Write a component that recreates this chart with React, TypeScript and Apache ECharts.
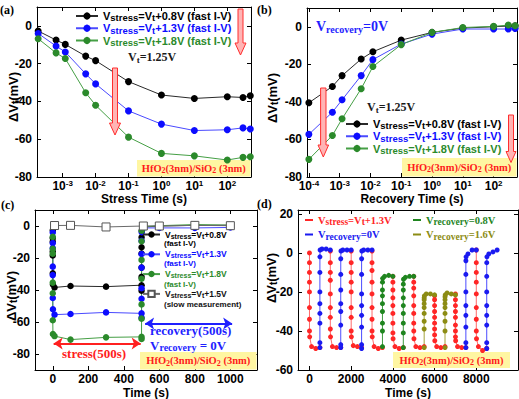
import React, { useEffect, useRef } from "react";
import * as echarts from "echarts";

const SANS = "'Liberation Sans', Arial, Helvetica, sans-serif";
const SERIF = "'Liberation Serif', 'Times New Roman', Times, serif";

// ---- (a) stress phase: time (s) and threshold shift (mV) ----
const stressTimes = [1.8e-4, 6.3e-4, 1.2e-3, 5e-3, 1e-2, 0.1, 1, 10, 100, 300, 500];
const stressShift08 = [-2.7, -7.5, -9.8, -16, -18.4, -29.5, -36.6, -38.4, -37.5, -37.9, -37];
const stressShift13 = [-4, -10.7, -13.8, -25.4, -30.7, -45, -52, -55.4, -55, -54, -54.6];
const stressShift18 = [-6.8, -14.3, -17.3, -35.4, -42, -58.9, -67.5, -68.8, -71, -69.6, -69.3];

// ---- (b) recovery phase (Vrecovery = 0V) ----
const recoveryTimes = [1e-4, 5.8e-4, 1.2e-3, 5e-3, 1.2e-2, 0.1, 1, 10, 100, 300, 500];
const recoveryShift08 = [-40.5, -31.8, -26, -17.2, -13.3, -7.1, -3, -0.7, 0, 0.4, 0.5];
const recoveryShift13 = [-57.3, -45.5, -38.9, -26, -17.5, -9.2, -3.9, -1.2, -1.2, -1.2, -0.9];
const recoveryShift18 = [-70.6, -57.9, -49, -33, -21.2, -9.5, -3, -0.4, 0.2, 0.9, 0.5];

// ---- (c) stress then recovery on a linear time axis ----
const stressDuration = 500;
const slowTimes = [10, 100, 300, 510, 600, 800, 1000];
const slowShift = [0.3, 0.4, -0.6, 0, 0, 0.4, 0.2];
const stressWindow = [5, 495];
const recoveryWindow = [520, 1010];
const stressArrowLevel = -73.5;
const recoveryArrowLevel = -61;

// ---- (d) repeated stress / recovery cycles ----
const pulseOffsets = [0, 2e-4, 6e-4, 1.2e-3, 5e-3, 1e-2, 0.1, 1, 10, 100, 300, 500];
const stressStarts = [0, 1000, 2000, 3000, 4000, 5000, 6000, 7000, 8000];
const stressPulses = [
  [0, -5, -10, -15, -20, -28, -34, -40, -43, -48, -49, -48.5],
  [1, -5, -10, -14, -21, -28, -33, -39, -43, -48, -48.5, -48.5],
  [1, -5, -10, -15, -20, -28, -33, -40, -43, -47.5, -48, -48.5],
  [1, -5, -9, -15, -21, -28, -34, -40, -43, -48, -49, -48.5],
  [-12, -15, -19, -23, -27, -31, -36, -41, -44, -48, -49, -48.5],
  [-12, -15, -18, -22, -27, -31, -36, -40, -44, -48, -48.5, -48],
  [-22, -24, -27, -30, -33, -36, -39, -42, -45, -48, -48.5, -48],
  [-21, -24, -27, -30, -33, -37, -40, -43, -45, -48, -48.5, -48.5],
  [1.5, -5, -10, -15, -21, -28, -34, -40, -44, -48, -50, -49],
];
const rec0Starts = [500, 1500, 2500, 7500, 8500];
const rec0Pulses = [
  [-48.5, -46, -36, -31, -26, -20, -10, -2, 1.5, 2, 2, 1.5],
  [-48.5, -47, -37, -30, -26, -19, -11, -3, 1, 1.5, 1.5, 1.5],
  [-49, -47, -38, -32, -27, -21, -11, -3, 1, 1.5, 1.5, 1.5],
  [-48.5, -46, -38, -32, -27, -20, -11, -4, -2, -0.5, 1.5, 1.5],
  [-49, -46, -37, -32, -27, -20, -12, -5, -2, -0.5, 0.5, 1.5],
];
const rec08Starts = [3500, 4500];
const rec08Pulses = [
  [-48, -40, -36, -30, -26, -22, -19, -15, -13, -12, -11.5, -12],
  [-48.5, -41, -36, -31, -27, -23, -19, -16, -13.5, -12.5, -12, -12],
];
const rec16Starts = [5500, 6500];
const rec16Pulses = [
  [-48.5, -39, -35, -31, -28, -26, -24, -23, -22, -21, -21, -21.5],
  [-48.5, -40, -35, -31, -28, -26, -24, -22.5, -21.5, -20.5, -21, -21.5],
];

// ---- tick values ----
const logTicksA = [1e-3, 1e-2, 1e-1, 1, 10, 100];
const logTicksB = [1e-4, 1e-3, 1e-2, 1e-1, 1, 10, 100];
const shiftTicksAB = [-80, -60, -40, -20, 0];
const timeTicksC = [0, 200, 400, 600, 800, 1000];
const shiftTicksC = [-80, -60, -40, -20, 0];
const timeTicksD = [0, 2000, 4000, 6000, 8000];
const shiftTicksD = [-60, -40, -20, 0, 20];

const COL = {
  black: { item: "#000000", line: "#2a2a2a" },
  blue: { item: "#0c0cff", line: "#4a4aff" },
  green: { item: "#2b8a2b", line: "#459f45" },
  red: { item: "#ff2626", line: "#ff6a6a" },
  dblue: { item: "#1a1af0", line: "#4c4cff" },
  dgreen: { item: "#1f851f", line: "#3f9a3f" },
  olive: { item: "#8c8c14", line: "#a3a33a" },
};

const legendText: Record<string, string> = {
  a08: "{v|V}{s|stress}{v|=V}{s|t}{v|+0.8V (fast I-V)}",
  a13: "{v|V}{s|stress}{v|=V}{s|t}{v|+1.3V (fast I-V)}",
  a18: "{v|V}{s|stress}{v|=V}{s|t}{v|+1.8V (fast I-V)}",
  b08: "{v|V}{s|stress}{v|=V}{s|t}{v|+0.8V (fast I-V)}",
  b13: "{v|V}{s|stress}{v|=V}{s|t}{v|+1.3V (fast I-V)}",
  b18: "{v|V}{s|stress}{v|=V}{s|t}{v|+1.8V (fast I-V)}",
  c08: "{v|V}{s|stress}{v|=V}{s|t}{v|+0.8V}",
  c13: "{v|V}{s|stress}{v|=V}{s|t}{v|+1.3V}",
  c18: "{v|V}{s|stress}{v|=V}{s|t}{v|+1.8V}",
  cslow: "{v|V}{s|stress}{v|=V}{s|t}{v|+1.5V}",
  d13: "{v|V}{s|stress}{v|=V}{s|t}{v|+1.3V}",
  d0: "{v|V}{s|recovery}{v|=0V}",
  d08: "{v|V}{s|recovery}{v|=0.8V}",
  d16: "{v|V}{s|recovery}{v|=1.6V}",
};

const pts = (xs: number[], ys: number[], shift = 0) => xs.map((x, i) => [x + shift, ys[i]]);

function pulseTrain(starts: number[], pulses: number[][]) {
  const out: any[] = [];
  starts.forEach((t0, k) => {
    pulses[k].forEach((v, i) => out.push([t0 + pulseOffsets[i], v]));
    out.push(["-", "-"]);
  });
  return out;
}

function lineSeries(name: string, idx: number, data: any[], c: { item: string; line: string }, size: number, extra: any = {}) {
  return {
    type: "line",
    name,
    xAxisIndex: idx,
    yAxisIndex: idx,
    data,
    symbol: "circle",
    symbolSize: size,
    showSymbol: true,
    showAllSymbol: true,
    connectNulls: false,
    clip: false,
    itemStyle: { color: c.item },
    lineStyle: { color: c.line, width: 1 },
    emphasis: { disabled: true },
    z: 2,
    ...extra,
  };
}

const axisLine = { show: true, onZero: false, lineStyle: { color: "#000", width: 1 } };
const ticks = (values: number[]) => ({ show: true, inside: true, length: 4, customValues: values, lineStyle: { color: "#000", width: 1 } });
const labelFont = { fontFamily: SANS, fontWeight: "bold", fontSize: 12, color: "#000" };
const titleFont = { fontFamily: SANS, fontWeight: "bold", fontSize: 12, color: "#000" };
const powerRich = {
  b: { fontFamily: SANS, fontWeight: "bold", fontSize: 12, color: "#000", lineHeight: 14 },
  p: { fontFamily: SANS, fontWeight: "bold", fontSize: 8, color: "#000", lineHeight: 8, verticalAlign: "top" },
};
const powerLabel = (v: number) => `{b|10}{p|${Math.round(Math.log10(v))}}`;
const plainLabel = (v: number) => String(v);

function xMain(grid: number, type: string, min: number, max: number, tv: number[], name: string, gap: number, log: boolean) {
  return {
    gridIndex: grid, type, ...(log ? { logBase: 10 } : {}), min, max, position: "bottom",
    axisLine, axisTick: ticks(tv), splitLine: { show: false }, minorTick: { show: false },
    axisLabel: log
      ? { customValues: tv, formatter: powerLabel, margin: 2, rich: powerRich }
      : { customValues: tv, formatter: plainLabel, margin: 3, ...labelFont },
    name, nameLocation: "middle", nameGap: gap, nameMoveOverlap: false, nameTextStyle: titleFont,
  };
}
function xMirror(grid: number, type: string, min: number, max: number, tv: number[], log: boolean) {
  return {
    gridIndex: grid, type, ...(log ? { logBase: 10 } : {}), min, max, position: "top",
    axisLine, axisTick: ticks(tv), axisLabel: { show: false }, splitLine: { show: false }, minorTick: { show: false },
  };
}
function yMain(grid: number, min: number, max: number, tv: number[]) {
  return {
    gridIndex: grid, type: "value", min, max, position: "left",
    axisLine, axisTick: ticks(tv), splitLine: { show: false },
    axisLabel: { customValues: tv, formatter: plainLabel, margin: 5, ...labelFont },
  };
}
function yMirror(grid: number, min: number, max: number, tv: number[]) {
  return {
    gridIndex: grid, type: "value", min, max, position: "right",
    axisLine, axisTick: ticks(tv), axisLabel: { show: false }, splitLine: { show: false },
  };
}

const rich = (family: string, main: number, sub: number, lh: number, subLh: number) => ({
  v: { fontFamily: family, fontWeight: "bold", fontSize: main, lineHeight: lh },
  s: { fontFamily: family, fontWeight: "bold", fontSize: sub, lineHeight: subLh, verticalAlign: "bottom" },
});

function legend(names: string[], colors: string[], pos: any, r: any) {
  return {
    orient: "vertical", padding: 0, selectedMode: false, ...pos,
    data: names.map((n, i) => ({ name: n, textStyle: { color: colors[i] } })),
    formatter: (n: string) => legendText[n],
    textStyle: { rich: r },
  };
}

// text helpers for the annotations
const gRich = (family: string, main: number, sub: number, fill: string, lh: number, subLh: number) => ({
  v: { fontFamily: family, fontWeight: "bold", fontSize: main, fill, lineHeight: lh },
  s: { fontFamily: family, fontWeight: "bold", fontSize: sub, fill, lineHeight: subLh, verticalAlign: "bottom" },
});
function gText(text: string, x: number, y: number, opts: any = {}) {
  const { align = "left", rotation = 0, ...style } = opts;
  return {
    type: "text", x, y, rotation, z: 60,
    style: { text, align, textAlign: align, verticalAlign: "middle", textVerticalAlign: "middle", ...style },
  };
}
function arrow(cx: number, top: number, headTop: number, tip: number, shaftHalf: number, headHalf: number) {
  return {
    type: "polygon", z: 55,
    shape: {
      points: [
        [cx - shaftHalf, top], [cx + shaftHalf, top], [cx + shaftHalf, headTop], [cx + headHalf, headTop],
        [cx, tip], [cx - headHalf, headTop], [cx - shaftHalf, headTop],
      ],
    },
    style: { fill: "#ffb4b4", stroke: "#ff2e2e", lineWidth: 1 },
  };
}
const oxideText = "{v|HfO}{s|2}{v|(3nm)/SiO}{s|2}{v| (3nm)}";
const oxideRich = gRich(SERIF, 10.5, 8, "#ff1a1a", 13, 8);
function oxideBox(x: number, y: number, w: number, h: number) {
  return [
    { type: "rect", z: 1, shape: { x, y, width: w, height: h }, style: { fill: "#fff6a2" } },
    gText(oxideText, x + w / 2, y + h / 2, { align: "center", rich: oxideRich }),
  ];
}
const yTitle = "{v|ΔV}{s|t}{v|(mV)}";
const yTitleRich = gRich(SANS, 13, 10, "#000", 15, 9);

function buildOption() {
  const series: any[] = [
    lineSeries("a08", 0, pts(stressTimes, stressShift08), COL.black, 7),
    lineSeries("a13", 0, pts(stressTimes, stressShift13), COL.blue, 7),
    lineSeries("a18", 0, pts(stressTimes, stressShift18), COL.green, 7),
    lineSeries("b08", 1, pts(recoveryTimes, recoveryShift08), COL.black, 7),
    lineSeries("b13", 1, pts(recoveryTimes, recoveryShift13), COL.blue, 7),
    lineSeries("b18", 1, pts(recoveryTimes, recoveryShift18), COL.green, 7),
    lineSeries("c08", 2, [...pts(stressTimes, stressShift08), ...pts(recoveryTimes, recoveryShift08, stressDuration)], COL.black, 6.5),
    lineSeries("c13", 2, [...pts(stressTimes, stressShift13), ...pts(recoveryTimes, recoveryShift13, stressDuration)], COL.blue, 6.5),
    lineSeries("c18", 2, [...pts(stressTimes, stressShift18), ...pts(recoveryTimes, recoveryShift18, stressDuration)], COL.green, 6.5),
    lineSeries("cslow", 2, pts(slowTimes, slowShift), { item: "#ffffff", line: "#6a6a6a" }, 8, {
      symbol: "rect",
      itemStyle: { color: "#ffffff", borderColor: "#555", borderWidth: 1 },
      z: 3,
      markLine: {
        silent: true,
        symbol: ["arrow", "arrow"],
        symbolSize: [9, 9],
        label: { show: false },
        emphasis: { disabled: true },
        data: [
          [
            { coord: [stressWindow[0], stressArrowLevel], lineStyle: { color: "#ff2020", width: 2, type: "solid" }, itemStyle: { color: "#ff2020" } },
            { coord: [stressWindow[1], stressArrowLevel] },
          ],
          [
            { coord: [recoveryWindow[0], recoveryArrowLevel], lineStyle: { color: "#1f1fff", width: 2, type: "solid" }, itemStyle: { color: "#1f1fff" } },
            { coord: [recoveryWindow[1], recoveryArrowLevel] },
          ],
        ],
      },
    }),
    lineSeries("d13", 3, pulseTrain(stressStarts, stressPulses), COL.red, 5),
    lineSeries("d0", 3, pulseTrain(rec0Starts, rec0Pulses), COL.dblue, 5),
    lineSeries("d08", 3, pulseTrain(rec08Starts, rec08Pulses), COL.dgreen, 5),
    lineSeries("d16", 3, pulseTrain(rec16Starts, rec16Pulses), COL.olive, 5),
  ];

  const graphic: any[] = [
    // panel tags
    gText("(a)", 0, 10, { font: `bold 12px ${SERIF}`, fill: "#000" }),
    gText("(b)", 257, 10, { font: `bold 12px ${SERIF}`, fill: "#000" }),
    gText("(c)", 1, 205, { font: `bold 12px ${SERIF}`, fill: "#000" }),
    gText("(d)", 257, 204, { font: `bold 12px ${SERIF}`, fill: "#000" }),
    // y titles
    gText(yTitle, 13, 97, { align: "center", rotation: Math.PI / 2, rich: yTitleRich }),
    gText(yTitle, 272, 98, { align: "center", rotation: Math.PI / 2, rich: yTitleRich }),
    gText(yTitle, 11, 296, { align: "center", rotation: Math.PI / 2, rich: yTitleRich }),
    gText(yTitle, 271, 278, { align: "center", rotation: Math.PI / 2, rich: yTitleRich }),
    // threshold voltage notes
    gText("{v|V}{s|t}{v|=1.25V}", 128, 57, { rich: gRich(SERIF, 12, 9, "#1a1a1a", 15, 8) }),
    gText("{v|V}{s|t}{v|=1.25V}", 367, 107, { rich: gRich(SERIF, 12, 9, "#1a1a1a", 15, 8) }),
    gText("{v|V}{s|recovery}{v|=0V}", 316, 26, { rich: gRich(SERIF, 14, 10, "#1f1fff", 17, 10) }),
    // panel (c) notes
    gText("recovery(500s)", 150, 330, { font: `bold 13px ${SERIF}`, fill: "#1f1fff" }),
    gText("{v|V}{s|recovery}{v| = 0V}", 150, 345.5, { rich: gRich(SERIF, 13, 10, "#1f1fff", 13, 8) }),
    gText("stress(500s)", 62, 353, { font: `bold 13px ${SERIF}`, fill: "#ff2020" }),
    gText("(fast I-V)", 164, 243.5, { font: `bold 8px ${SANS}`, fill: COL.black.item }),
    gText("(fast I-V)", 164, 263.8, { font: `bold 8px ${SANS}`, fill: COL.blue.item }),
    gText("(fast I-V)", 164, 284.1, { font: `bold 8px ${SANS}`, fill: COL.green.item }),
    gText("(slow measurement)", 164, 304.4, { font: `bold 8px ${SANS}`, fill: "#111" }),
    // hollow trend arrows
    arrow(115, 68, 123, 135, 2.5, 5.5),
    arrow(240.5, 9, 43, 55, 2.5, 5.5),
    arrow(323.3, 88, 145, 157, 2.7, 5.3),
    arrow(511, 115, 151.5, 162.5, 2.5, 5),
    // oxide stack labels
    ...oxideBox(137, 160, 113.5, 16.5),
    ...oxideBox(402, 158, 114.5, 18.5),
    ...oxideBox(140, 352, 116.5, 17.5),
    ...oxideBox(393, 352, 117, 16),
  ];

  return {
    animation: false,
    backgroundColor: "#ffffff",
    grid: [
      { left: 37, top: 7, width: 214, height: 170, outerBoundsMode: "none", containLabel: false },
      { left: 307, top: 8, width: 210, height: 169, outerBoundsMode: "none", containLabel: false },
      { left: 35, top: 210, width: 222, height: 160, outerBoundsMode: "none", containLabel: false },
      { left: 298, top: 210, width: 220, height: 160, outerBoundsMode: "none", containLabel: false },
    ],
    xAxis: [
      xMain(0, "log", 1.66e-4, 525, logTicksA, "Stress Time (s)", 16, true),
      xMain(1, "log", 8.7e-5, 575, logTicksB, "Recovery Time (s)", 16, true),
      xMain(2, "value", -100, 1150, timeTicksC, "Time (s)", 17, false),
      xMain(3, "value", -550, 10000, timeTicksD, "Time (s)", 17, false),
      xMirror(0, "log", 1.66e-4, 525, logTicksA, true),
      xMirror(1, "log", 8.7e-5, 575, logTicksB, true),
      xMirror(2, "value", -100, 1150, timeTicksC, false),
      xMirror(3, "value", -550, 10000, timeTicksD, false),
    ],
    yAxis: [
      yMain(0, -80, 10, shiftTicksAB),
      yMain(1, -80, 10, shiftTicksAB),
      yMain(2, -90, 10, shiftTicksC),
      yMain(3, -60, 22, shiftTicksD),
      yMirror(0, -80, 10, shiftTicksAB),
      yMirror(1, -80, 10, shiftTicksAB),
      yMirror(2, -90, 10, shiftTicksC),
      yMirror(3, -60, 22, shiftTicksD),
    ],
    legend: [
      legend(["a08", "a13", "a18"], [COL.black.item, COL.blue.item, COL.green.item],
        { left: 75, top: 10.5, itemGap: 0, itemWidth: 22, itemHeight: 9 }, rich(SANS, 11, 9.5, 13.5, 6)),
      legend(["b08", "b13", "b18"], [COL.black.item, COL.blue.item, COL.green.item],
        { left: 345, top: 118.5, itemGap: 0, itemWidth: 22, itemHeight: 9 }, rich(SANS, 11, 9.5, 13.5, 6)),
      legend(["c08", "c13", "c18", "cslow"], [COL.black.item, COL.blue.item, COL.green.item, "#111"],
        { left: 142, top: 230, itemGap: 10.3, itemWidth: 17, itemHeight: 8 }, rich(SANS, 8.5, 7, 10, 5)),
      legend(["d13", "d0"], [COL.red.item, COL.dblue.item],
        { left: 305, top: 214.5, itemGap: 2, itemWidth: 8, itemHeight: 2, icon: "rect" }, rich(SERIF, 10.5, 9.5, 14, 7)),
      legend(["d08", "d16"], [COL.dgreen.item, COL.olive.item],
        { left: 413, top: 214.5, itemGap: 2, itemWidth: 8, itemHeight: 2, icon: "rect" }, rich(SERIF, 10.5, 9.5, 14, 7)),
    ],
    series,
    graphic,
  };
}

export default function App() {
  const ref = useRef<HTMLDivElement>(null);
  useEffect(() => {
    if (!ref.current) return;
    const chart = echarts.init(ref.current, null, { renderer: "svg" });
    chart.setOption(buildOption());
    return () => chart.dispose();
  }, []);
  return <div ref={ref} style={{ position: "absolute", left: 0, top: 0, width: 519, height: 399 }} />;
}
